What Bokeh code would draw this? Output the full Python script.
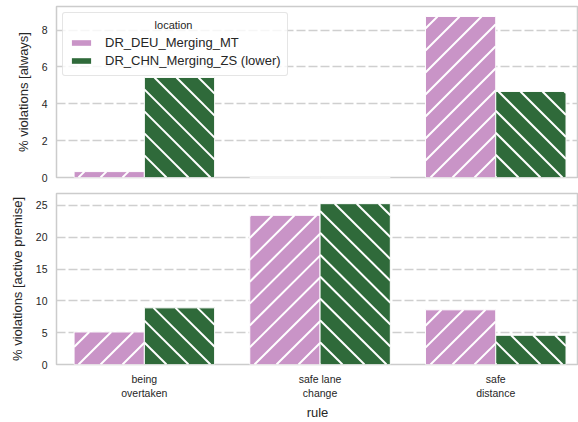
import math
from bokeh.plotting import figure
from bokeh.layouts import column
from bokeh.models import (Range1d, ColumnDataSource, Legend, LegendItem,
                          FixedTicker)
from bokeh.transform import dodge
from bokeh.embed import file_html
from bokeh.resources import INLINE

# ---- data ----
rules = ["being\novertaken", "safe lane\nchange", "safe\ndistance"]
locations = ["DR_DEU_Merging_MT", "DR_CHN_Merging_ZS (lower)"]
always_deu = [0.32, 0.0, 8.74]
always_chn = [5.43, 0.0, 4.67]
premise_deu = [5.11, 23.44, 8.59]
premise_chn = [8.90, 25.27, 4.59]
ticks_always = [0, 2, 4, 6, 8]
ticks_premise = [0, 5, 10, 15, 20, 25]

# ---- layout / style ----
FONT = "Liberation Sans"
TXT = "#262626"
colors = ["#c994c7", "#2f6a3a"]
hatch_dirs = ["/", "\\"]
BAR_W = 0.4
OFFSETS = [-BAR_W / 2, BAR_W / 2]
WIDTH = 578
BORDER_LEFT = 56
X_START, X_END = -0.5, 2.471
HATCH_STEP = 22  # px between hatch lines


def hatch_segments(tops, off, kx, ky, direction):
    """White 45-degree hatch lines clipped to each bar (screen-pixel spacing)."""
    sx0, sy0, sx1, sy1 = [], [], [], []
    for i, h in enumerate(tops):
        x0 = (i + off - BAR_W / 2 - X_START) * kx
        x1 = (i + off + BAR_W / 2 - X_START) * kx
        yt = h * ky
        if yt <= 0.5:
            continue
        if direction == "/":
            k0 = math.ceil((x0 - yt) / HATCH_STEP)
            k1 = math.floor(x1 / HATCH_STEP)
            for k in range(k0, k1 + 1):
                c = k * HATCH_STEP
                lo, hi = max(0.0, x0 - c), min(yt, x1 - c)
                if hi - lo > 0.3:
                    sx0.append(lo + c); sy0.append(lo)
                    sx1.append(hi + c); sy1.append(hi)
        else:
            k0 = math.ceil(x0 / HATCH_STEP)
            k1 = math.floor((x1 + yt) / HATCH_STEP)
            for k in range(k0, k1 + 1):
                c = k * HATCH_STEP
                lo, hi = max(0.0, c - x1), min(yt, c - x0)
                if hi - lo > 0.3:
                    sx0.append(c - lo); sy0.append(lo)
                    sx1.append(c - hi); sy1.append(hi)
    return dict(x0=[v / kx + X_START for v in sx0], y0=[v / ky for v in sy0],
                x1=[v / kx + X_START for v in sx1], y1=[v / ky for v in sy1])


def make_fig(height, yend, ticks, ylabel, deu, chn, mb_top, mb_bottom):
    p = figure(width=WIDTH, height=height,
               x_range=Range1d(X_START, X_END), y_range=Range1d(0, yend),
               output_backend="svg", toolbar_location=None,
               min_border_left=BORDER_LEFT, min_border_right=0,
               min_border_top=mb_top, min_border_bottom=mb_bottom)
    frame_w = WIDTH - BORDER_LEFT
    frame_h = height - mb_top - mb_bottom
    kx = frame_w / (X_END - X_START)
    ky = frame_h / yend
    src = ColumnDataSource(dict(x=list(range(len(rules))), deu=deu, chn=chn))
    for i, (col, vals) in enumerate([("deu", deu), ("chn", chn)]):
        p.vbar(x=dodge("x", OFFSETS[i]), top=col, width=BAR_W, source=src,
               fill_color=colors[i], line_color="white", line_width=1)
        seg = ColumnDataSource(hatch_segments(vals, OFFSETS[i], kx, ky,
                                              hatch_dirs[i]))
        p.segment(x0="x0", y0="y0", x1="x1", y1="y1", source=seg,
                  line_color="white", line_width=2)
    p.outline_line_color = "#cccccc"
    p.outline_line_width = 1.5
    p.xgrid.visible = False
    p.ygrid.grid_line_color = "#cfcfcf"
    p.ygrid.grid_line_width = 1.6
    p.ygrid.grid_line_dash = "9 3"
    p.yaxis.ticker = FixedTicker(ticks=ticks)
    for ax in (p.xaxis[0], p.yaxis[0]):
        ax.axis_line_color = None
        ax.major_tick_line_color = None
        ax.minor_tick_line_color = None
        ax.major_tick_out = 0
        ax.major_label_text_font = FONT
        ax.major_label_text_font_size = "10.5px"
        ax.major_label_text_color = TXT
        ax.axis_label_text_font = FONT
        ax.axis_label_text_font_size = "13px"
        ax.axis_label_text_font_style = "normal"
        ax.axis_label_text_color = TXT
    p.yaxis.axis_label = ylabel
    p.yaxis.major_label_standoff = 9
    p.yaxis.axis_label_standoff = 8
    return p, src


p1, src1 = make_fig(185, 9.28, ticks_always, "% violations [always]",
                    always_deu, always_chn, 6, 8)
p1.xaxis.visible = False

# legend proxies (solid patches, zero-width bars)
items = []
for i, (name, col) in enumerate(zip(locations, ["deu", "chn"])):
    r = p1.vbar(x="x", top=col, width=0, source=src1,
                fill_color=colors[i], line_color=None)
    items.append(LegendItem(label=name, renderers=[r]))
legend = Legend(items=items, location="top_left",
                title="\u00a0" * 28 + "location",
                title_text_font=FONT, title_text_font_size="11px",
                title_text_font_style="normal", title_text_color=TXT,
                title_standoff=2,
                label_text_font=FONT, label_text_font_size="13px",
                label_text_color=TXT, label_standoff=12,
                glyph_width=24, glyph_height=7, label_height=18,
                spacing=0, padding=6, margin=6,
                border_line_color="#cccccc", border_line_width=1.5,
                border_radius=3,
                background_fill_color="white", background_fill_alpha=0.8)
p1.add_layout(legend)

p2, src2 = make_fig(237, 26.87, ticks_premise, "% violations [active premise]",
                    premise_deu, premise_chn, 8, 57)
p2.xaxis.ticker = FixedTicker(ticks=list(range(len(rules))))
p2.xaxis.major_label_overrides = {i: r for i, r in enumerate(rules)}
p2.xaxis.axis_label = "rule"
p2.xaxis.major_label_standoff = 8
p2.xaxis.axis_label_standoff = 3

layout = column(p1, p2, spacing=0)
open("out.html", "w").write(file_html(layout, INLINE))
